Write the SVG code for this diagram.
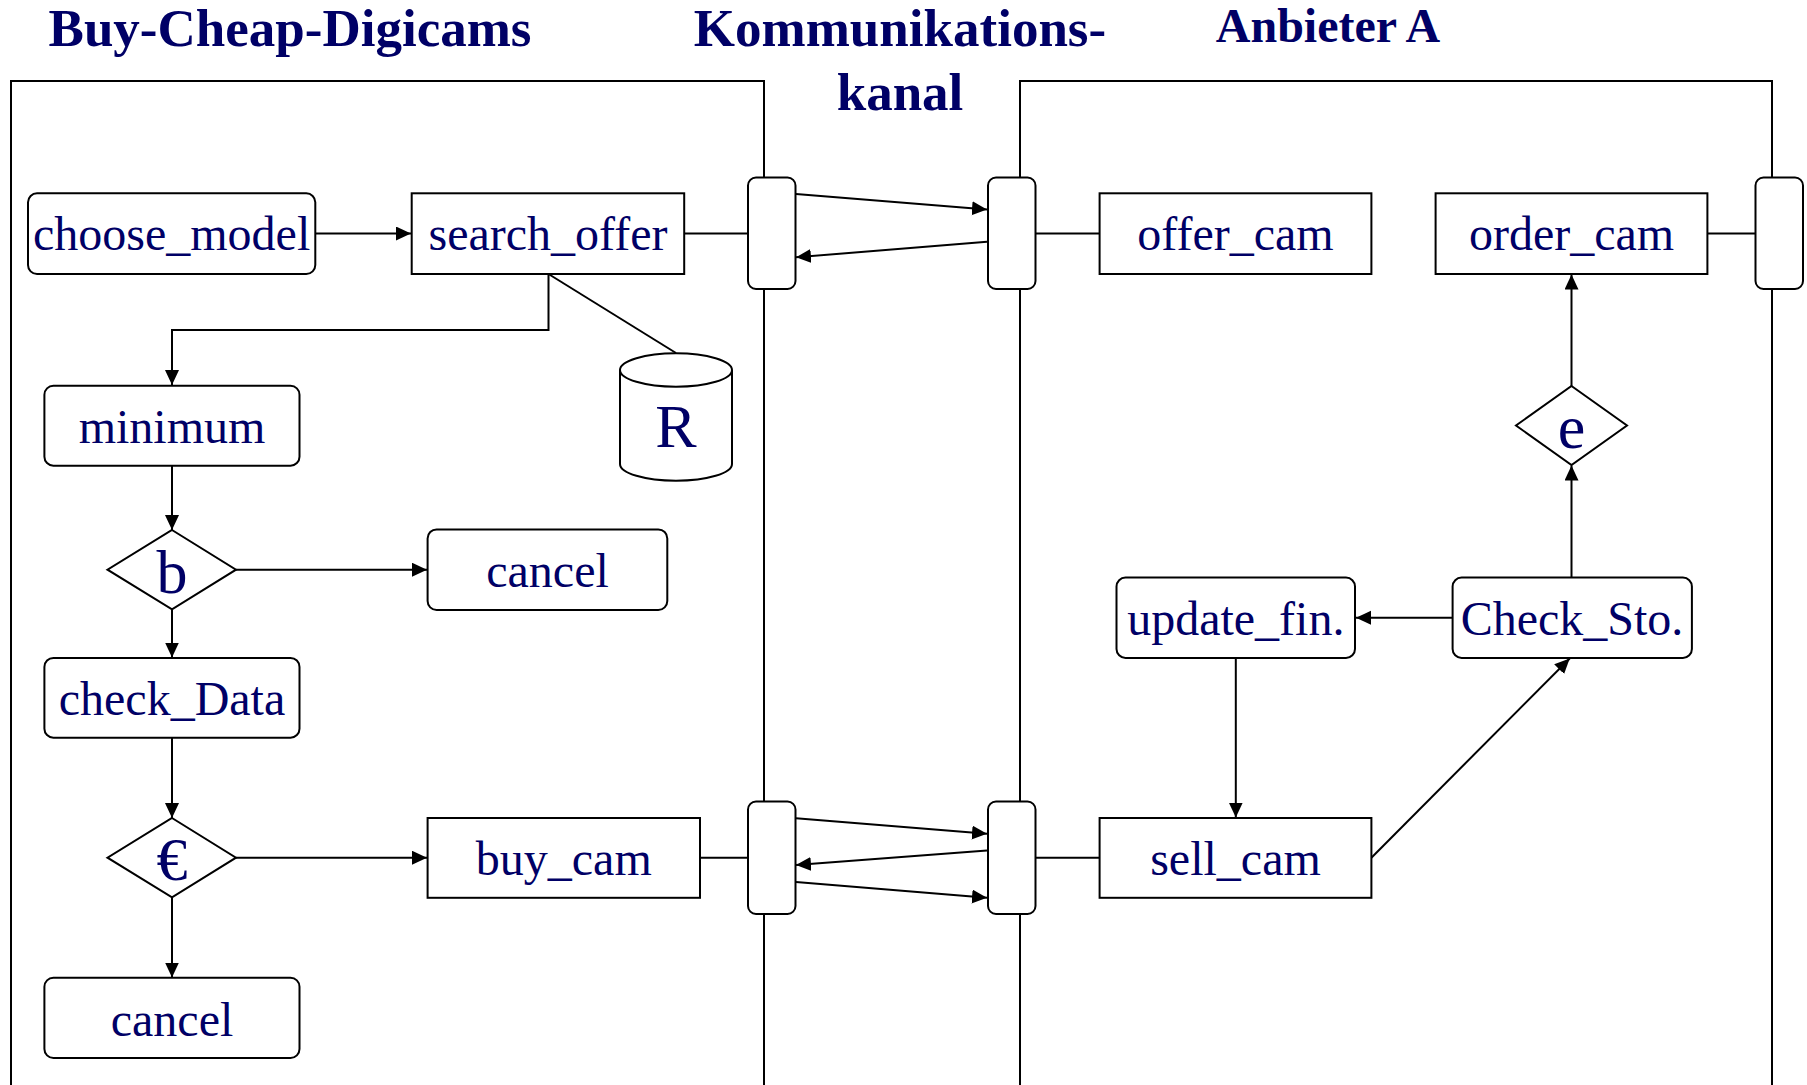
<svg xmlns="http://www.w3.org/2000/svg" width="1807" height="1085" viewBox="0 0 1807 1085">
<defs>
<marker id="ah" markerUnits="userSpaceOnUse" markerWidth="16" markerHeight="15" refX="15" refY="7" orient="auto">
<path d="M0,0 L15,7 L0,14 z" fill="#000"/>
</marker>
<style>
.title{font-family:"Liberation Serif","Times New Roman",serif;font-weight:bold;fill:#000066;text-anchor:middle}
.lbl{font-family:"Liberation Serif","Times New Roman",serif;font-size:48px;fill:#000066;text-anchor:middle}
.big{font-family:"Liberation Serif","Times New Roman",serif;font-size:62px;fill:#000066;text-anchor:middle}
.box{fill:#fff;stroke:#000;stroke-width:2}
.lane{fill:none;stroke:#000;stroke-width:2}
.c{fill:none;stroke:#000;stroke-width:2}
.ca{fill:none;stroke:#000;stroke-width:2;marker-end:url(#ah)}
</style>
</defs>
<rect width="1807" height="1085" fill="#fff"/>

<g id="titles">
<text class="title" x="290" y="46" font-size="53">Buy-Cheap-Digicams</text>
<text class="title" x="900" y="46" font-size="53">Kommunikations-</text>
<text class="title" x="900" y="110" font-size="53">kanal</text>
<text class="title" x="1328" y="42" font-size="48">Anbieter A</text>
</g>

<g id="lanes">
<path class="lane" d="M11,1085 V81 H764 V1085"/>
<path class="lane" d="M1020,1085 V81 H1772 V1085"/>
</g>

<g id="connectors">
<line class="ca" x1="315" y1="233.5" x2="411" y2="233.5"/>
<line class="c" x1="684" y1="233.5" x2="748" y2="233.5"/>
<polyline class="ca" points="548.5,274 548.5,330 172,330 172,385"/>
<line class="c" x1="548.5" y1="274" x2="676" y2="353"/>
<line class="ca" x1="172" y1="466" x2="172" y2="530"/>
<line class="ca" x1="236" y1="569.7" x2="427" y2="569.7"/>
<line class="ca" x1="172" y1="609.3" x2="172" y2="657.5"/>
<line class="ca" x1="172" y1="738" x2="172" y2="818"/>
<line class="ca" x1="236" y1="857.7" x2="427" y2="857.7"/>
<line class="ca" x1="172" y1="897.4" x2="172" y2="977.5"/>
<line class="c" x1="700" y1="857.7" x2="748" y2="857.7"/>
<line class="ca" x1="796" y1="194" x2="987" y2="209.5"/>
<line class="ca" x1="987" y1="241.7" x2="796" y2="257.3"/>
<line class="ca" x1="796" y1="818.3" x2="987" y2="833.8"/>
<line class="ca" x1="987" y1="850.4" x2="796" y2="865"/>
<line class="ca" x1="796" y1="882" x2="987" y2="897.8"/>
<line class="c" x1="1036" y1="233.5" x2="1100" y2="233.5"/>
<line class="c" x1="1707" y1="233.5" x2="1755" y2="233.5"/>
<line class="c" x1="1036" y1="857.7" x2="1100" y2="857.7"/>
<line class="ca" x1="1452.6" y1="617.7" x2="1356" y2="617.7"/>
<line class="ca" x1="1235.8" y1="658" x2="1235.8" y2="817.5"/>
<line class="ca" x1="1371.4" y1="857.7" x2="1569.7" y2="658.5"/>
<line class="ca" x1="1571.5" y1="577.6" x2="1571.5" y2="465.5"/>
<line class="ca" x1="1571.5" y1="386" x2="1571.5" y2="274.5"/>
</g>

<g id="port_l_top"><rect class="box" x="748" y="177.5" width="47.5" height="111.5" rx="8"/></g>
<g id="port_m_top"><rect class="box" x="988" y="177.5" width="47.5" height="111.5" rx="8"/></g>
<g id="port_r_top"><rect class="box" x="1755.5" y="177.5" width="47.5" height="111.5" rx="8"/></g>
<g id="port_l_bot"><rect class="box" x="748" y="801.5" width="47.5" height="112.5" rx="8"/></g>
<g id="port_m_bot"><rect class="box" x="988" y="801.5" width="47.5" height="112.5" rx="8"/></g>

<g id="choose_model"><rect class="box" x="28" y="193.3" width="287.3" height="80.7" rx="9"/><text class="lbl" x="171.6" y="250">choose_model</text></g>
<g id="search_offer"><rect class="box" x="411.7" y="193.3" width="272.5" height="80.7"/><text class="lbl" x="548" y="250">search_offer</text></g>
<g id="R">
<path class="box" d="M620,370 A56,16.7 0 0 1 732,370 V464 A56,16.7 0 0 1 620,464 Z"/>
<path class="c" d="M620,370 A56,16.7 0 0 0 732,370"/>
<text class="big" x="676" y="446.5" font-size="63">R</text>
</g>
<g id="minimum"><rect class="box" x="44.4" y="385.7" width="255.1" height="80" rx="9"/><text class="lbl" x="172" y="443">minimum</text></g>
<g id="dec_b"><polygon class="box" points="172,530 236,569.7 172,609.3 107.5,569.7"/><text class="big" x="172" y="592.5">b</text></g>
<g id="cancel_1"><rect class="box" x="427.6" y="529.4" width="239.7" height="80.6" rx="9"/><text class="lbl" x="547.5" y="587">cancel</text></g>
<g id="check_Data"><rect class="box" x="44.4" y="657.9" width="255.1" height="79.8" rx="9"/><text class="lbl" x="172" y="715">check_Data</text></g>
<g id="dec_euro"><polygon class="box" points="172,818 236,857.7 172,897.4 107.5,857.7"/><text class="big" x="172" y="880">€</text></g>
<g id="buy_cam"><rect class="box" x="427.6" y="818" width="272.4" height="79.8"/><text class="lbl" x="563.8" y="875">buy_cam</text></g>
<g id="cancel_2"><rect class="box" x="44.4" y="977.7" width="255.1" height="80.3" rx="9"/><text class="lbl" x="172" y="1035.5">cancel</text></g>

<g id="offer_cam"><rect class="box" x="1099.6" y="193.3" width="271.8" height="80.7"/><text class="lbl" x="1235.5" y="250">offer_cam</text></g>
<g id="order_cam"><rect class="box" x="1435.6" y="193.3" width="271.8" height="80.7"/><text class="lbl" x="1571.5" y="250">order_cam</text></g>
<g id="dec_e"><polygon class="box" points="1571.5,386 1627,425.5 1571.5,465 1516,425.5"/><text class="big" x="1571.5" y="448" font-size="66">e</text></g>
<g id="update_fin"><rect class="box" x="1116.5" y="577.6" width="238.5" height="80.3" rx="9"/><text class="lbl" x="1235.8" y="635">update_fin.</text></g>
<g id="Check_Sto"><rect class="box" x="1452.6" y="577.6" width="239.3" height="80.3" rx="9"/><text class="lbl" x="1572" y="635">Check_Sto.</text></g>
<g id="sell_cam"><rect class="box" x="1099.6" y="818" width="271.8" height="79.8"/><text class="lbl" x="1235.5" y="875">sell_cam</text></g>
</svg>
